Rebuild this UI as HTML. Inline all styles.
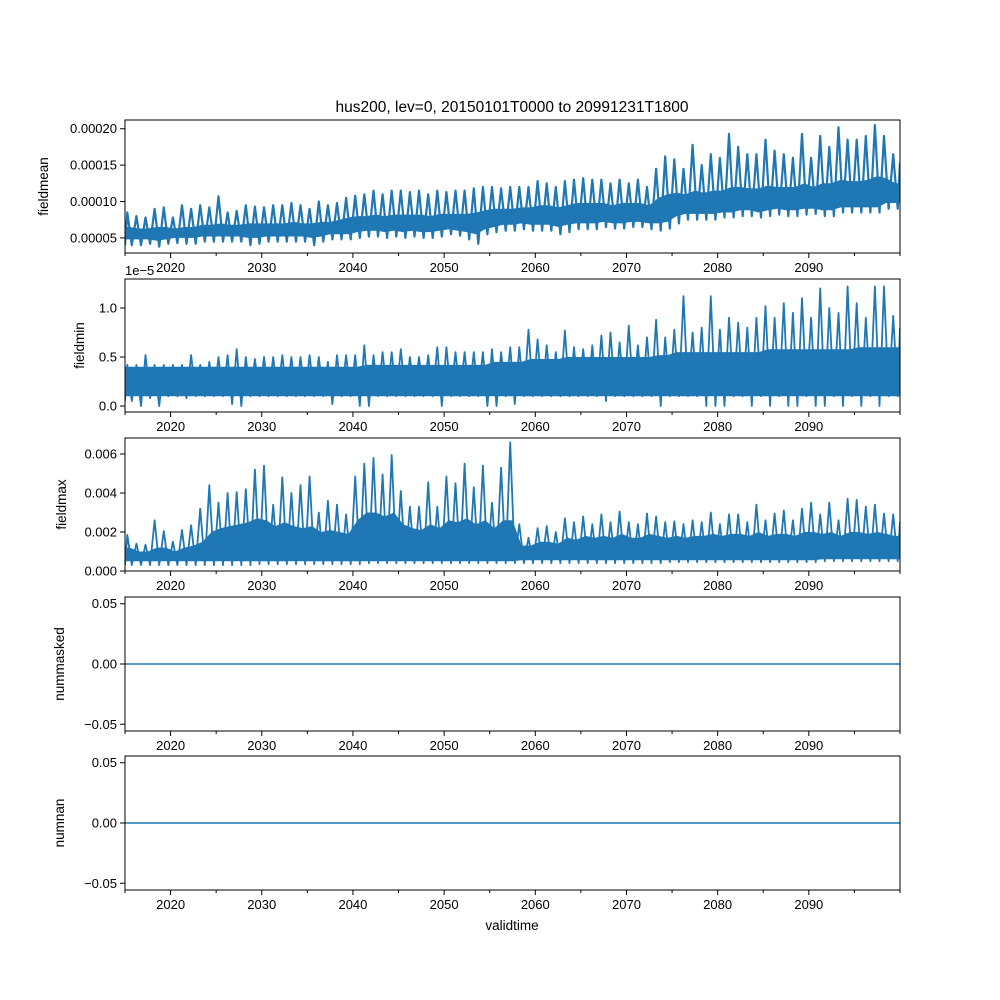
<!DOCTYPE html>
<html><head><meta charset="utf-8"><style>
body{margin:0;background:#fff}
svg{display:block;font-family:"Liberation Sans","DejaVu Sans",sans-serif}
</style></head><body>
<svg id="fig" width="1000" height="1000" viewBox="0 0 1000 1000">
<text x="512" y="112" font-size="15.5" text-anchor="middle">hus200, lev=0, 20150101T0000 to 20991231T1800</text>
<text x="512" y="930" font-size="13.5" text-anchor="middle">validtime</text>
</svg>
<script>
// ---- data (per year 2015..2099) ----
const years=[];for(let y=2015;y<2100;y++)years.push(y);
const xTicks=[2020,2030,2040,2050,2060,2070,2080,2090];
const xMinorTicks=[2015,2025,2035,2045,2055,2065,2075,2085,2095,2100];
// fieldmean (units 1e-5)
const meanPeak=[8.5,8.0,7.8,9.0,9.2,7.8,9.5,9.0,9.5,9.2,10.7,8.5,8.7,9.5,9.3,9.2,9.5,9.5,9.8,9.5,9.0,10.0,9.5,9.8,10.5,10.8,11.0,11.5,11.0,11.5,11.5,11.3,11.5,11.0,11.5,11.3,11.5,11.5,11.8,12.0,12.0,11.8,12.0,12.0,12.0,12.8,12.5,12.0,12.8,13.0,13.2,13.0,13.0,12.5,13.0,12.5,13.0,12.0,14.5,16.2,15.8,14.5,17.8,15.0,16.5,16.0,19.3,17.5,16.5,16.5,18.5,17.0,16.5,16.0,19.3,16.0,19.0,17.5,20.2,18.5,18.5,19.0,20.5,19.0,16.5];
const meanTrough=[4.0,4.0,4.2,3.8,4.2,4.3,4.2,4.2,4.5,4.5,4.5,4.5,4.5,4.0,4.2,4.5,4.5,4.5,4.5,4.5,4.0,4.5,4.8,4.8,4.8,5.0,5.2,5.2,5.0,5.2,5.0,5.2,5.0,5.0,5.2,5.5,5.3,4.8,4.2,5.5,5.8,6.0,6.0,6.2,6.0,6.0,6.0,5.5,5.8,6.2,6.2,6.2,6.5,6.3,6.3,6.5,6.5,6.2,6.0,6.3,7.0,7.5,7.5,7.5,7.5,7.8,7.8,8.0,8.0,7.8,8.0,8.2,8.0,8.0,8.2,8.3,8.0,8.0,8.5,8.5,8.5,8.5,8.5,9.0,9.0];
const meanBandHi=[6.5,6.3,6.3,6.5,6.5,6.3,6.5,6.5,6.8,6.8,7.0,6.8,6.8,7.0,7.0,7.0,7.0,7.0,7.2,7.0,7.0,7.2,7.2,7.5,7.8,8.0,8.0,8.2,8.0,8.2,8.2,8.2,8.2,8.0,8.3,8.3,8.3,8.3,8.5,8.8,9.0,9.0,9.0,9.2,9.2,9.5,9.5,9.2,9.5,9.8,9.8,9.8,9.8,9.5,9.8,9.8,9.8,9.5,10.5,11.0,11.2,11.0,11.5,11.2,11.5,11.5,12.0,12.0,11.8,11.8,12.2,12.0,12.0,12.0,12.5,12.0,12.5,12.5,13.0,12.8,12.8,13.0,13.5,13.2,12.5];
const meanBandLo=[4.8,4.8,4.8,4.6,4.8,5.0,5.0,5.0,5.2,5.2,5.2,5.2,5.2,5.0,5.0,5.2,5.2,5.2,5.2,5.2,5.0,5.2,5.5,5.5,5.5,5.8,6.0,6.0,5.8,6.0,5.8,6.0,5.8,5.8,6.0,6.2,6.0,5.8,5.5,6.2,6.5,6.8,6.8,7.0,6.8,6.8,6.8,6.5,6.8,7.0,7.0,7.0,7.2,7.0,7.0,7.2,7.2,7.0,7.0,7.2,8.0,8.3,8.3,8.3,8.3,8.5,8.5,8.8,8.8,8.5,8.8,9.0,8.8,8.8,9.0,9.0,8.8,8.8,9.2,9.2,9.2,9.2,9.2,9.8,9.8];
// fieldmin (units 1e-5)
const minPeak=[0.42,0.42,0.52,0.42,0.42,0.42,0.42,0.52,0.42,0.45,0.50,0.52,0.58,0.50,0.48,0.50,0.50,0.52,0.50,0.50,0.52,0.50,0.45,0.52,0.52,0.52,0.62,0.52,0.55,0.55,0.58,0.50,0.50,0.52,0.60,0.60,0.55,0.55,0.55,0.55,0.58,0.55,0.60,0.60,0.78,0.68,0.62,0.55,0.77,0.60,0.58,0.62,0.72,0.75,0.65,0.82,0.62,0.70,0.88,0.70,0.78,1.12,0.75,0.80,1.12,0.78,0.90,0.85,0.80,0.90,1.02,0.90,1.05,0.95,1.10,0.90,1.20,1.00,0.95,1.22,1.05,0.90,1.22,1.22,0.92];
const minTrough=[0.05,0.0,0.08,0.0,0.1,0.1,0.08,0.1,0.1,0.1,0.1,0.02,0.0,0.1,0.1,0.1,0.1,0.1,0.1,0.1,0.1,0.1,0.02,0.1,0.1,0.0,0.0,0.1,0.1,0.1,0.1,0.1,0.1,0.1,0.0,0.1,0.1,0.1,0.1,0.0,0.0,0.1,0.02,0.1,0.1,0.1,0.1,0.1,0.1,0.1,0.1,0.1,0.05,0.1,0.1,0.1,0.1,0.1,0.0,0.1,0.1,0.1,0.1,0.0,0.0,0.0,0.1,0.1,0.0,0.1,0.0,0.1,0.0,0.0,0.1,0.0,0.0,0.1,0.0,0.1,0.0,0.1,0.0,0.1,0.1];
const minBandHi=[0.4,0.4,0.4,0.4,0.4,0.4,0.4,0.4,0.4,0.4,0.4,0.4,0.4,0.4,0.4,0.4,0.4,0.4,0.4,0.4,0.4,0.4,0.4,0.4,0.4,0.4,0.42,0.42,0.42,0.42,0.42,0.42,0.42,0.42,0.42,0.42,0.42,0.42,0.42,0.42,0.45,0.45,0.45,0.45,0.48,0.48,0.48,0.48,0.5,0.5,0.5,0.5,0.5,0.5,0.5,0.5,0.5,0.5,0.52,0.52,0.55,0.55,0.55,0.55,0.55,0.55,0.55,0.55,0.55,0.55,0.58,0.58,0.58,0.58,0.58,0.58,0.58,0.58,0.58,0.58,0.6,0.6,0.6,0.6,0.6];
const minBandLo=[0.1,0.1,0.1,0.1,0.1,0.1,0.1,0.1,0.1,0.1,0.1,0.1,0.1,0.1,0.1,0.1,0.1,0.1,0.1,0.1,0.1,0.1,0.1,0.1,0.1,0.1,0.1,0.1,0.1,0.1,0.1,0.1,0.1,0.1,0.1,0.1,0.1,0.1,0.1,0.1,0.1,0.1,0.1,0.1,0.1,0.1,0.1,0.1,0.1,0.1,0.1,0.1,0.1,0.1,0.1,0.1,0.1,0.1,0.1,0.1,0.1,0.1,0.1,0.1,0.1,0.1,0.1,0.1,0.1,0.1,0.1,0.1,0.1,0.1,0.1,0.1,0.1,0.1,0.1,0.1,0.1,0.1,0.1,0.1,0.1];
// fieldmax (units 1e-3)
const maxPeak=[1.85,1.4,1.35,2.6,2.05,1.5,2.1,2.35,3.2,4.4,3.5,4.0,4.05,4.2,5.2,5.4,3.4,4.8,4.0,4.4,4.85,3.0,3.6,3.4,2.9,4.85,5.5,5.8,4.95,5.95,4.1,3.3,3.3,4.55,3.3,4.85,4.5,5.5,4.3,5.4,3.5,5.3,6.6,2.4,1.7,2.2,2.3,2.0,2.7,2.5,2.8,2.4,2.9,2.5,3.05,2.5,2.4,2.95,2.8,2.5,2.55,2.4,2.6,2.5,3.0,2.4,2.9,2.9,2.5,3.4,2.6,2.95,3.1,2.6,3.2,3.5,2.9,3.5,2.6,3.7,3.65,3.3,3.4,2.95,2.9];
const maxTrough=[0.3,0.3,0.3,0.3,0.3,0.3,0.3,0.3,0.3,0.3,0.3,0.3,0.3,0.3,0.35,0.35,0.35,0.35,0.35,0.35,0.35,0.35,0.35,0.35,0.35,0.35,0.4,0.4,0.4,0.4,0.4,0.4,0.4,0.4,0.4,0.4,0.4,0.4,0.4,0.4,0.4,0.4,0.4,0.4,0.4,0.4,0.4,0.4,0.4,0.4,0.4,0.4,0.4,0.4,0.4,0.4,0.4,0.4,0.4,0.45,0.45,0.45,0.45,0.45,0.45,0.45,0.45,0.45,0.45,0.45,0.45,0.45,0.45,0.45,0.45,0.45,0.5,0.5,0.5,0.5,0.5,0.5,0.5,0.5,0.5];
const maxBandHi=[1.2,1.0,1.0,1.2,1.2,1.0,1.2,1.3,1.5,2.0,2.2,2.3,2.4,2.5,2.7,2.6,2.3,2.5,2.3,2.2,2.3,2.0,2.1,2.0,1.9,2.6,3.0,3.0,2.8,3.0,2.4,2.2,2.1,2.4,2.2,2.6,2.5,2.7,2.4,2.6,2.2,2.6,2.6,1.3,1.3,1.5,1.5,1.4,1.7,1.6,1.8,1.7,1.8,1.7,1.9,1.7,1.7,1.9,1.8,1.7,1.8,1.7,1.8,1.8,1.9,1.8,1.9,1.9,1.8,2.0,1.8,1.9,1.9,1.8,2.0,2.0,1.9,2.0,1.8,2.0,2.0,1.9,2.0,1.9,1.8];
const maxBandLo=[0.5,0.5,0.5,0.5,0.5,0.5,0.5,0.5,0.5,0.5,0.5,0.5,0.5,0.5,0.5,0.5,0.5,0.5,0.5,0.5,0.5,0.5,0.5,0.5,0.5,0.5,0.5,0.5,0.5,0.5,0.5,0.5,0.5,0.5,0.5,0.5,0.5,0.5,0.5,0.5,0.5,0.5,0.5,0.55,0.55,0.55,0.55,0.55,0.55,0.55,0.55,0.55,0.55,0.55,0.55,0.55,0.55,0.55,0.55,0.55,0.55,0.55,0.55,0.55,0.55,0.55,0.55,0.55,0.55,0.55,0.55,0.55,0.55,0.55,0.55,0.55,0.6,0.6,0.6,0.6,0.6,0.6,0.6,0.6,0.6];
const zeroSeries=years.map(()=>0);
const meanTicks=[0.00005,0.00010,0.00015,0.00020];
const meanTickLabels=["0.00005","0.00010","0.00015","0.00020"];
const minTicks=[0,0.5,1.0];const minTickLabels=["0.0","0.5","1.0"];
const maxTicks=[0,0.002,0.004,0.006];const maxTickLabels=["0.000","0.002","0.004","0.006"];
const zTicks=[-0.05,0,0.05];const zTickLabels=["−0.05","0.00","0.05"];

const NS="http://www.w3.org/2000/svg";
const svg=document.getElementById('fig');
const X0=125,X1=900,XMIN=2015,XMAX=2100;
function xs(v){return X0+(v-XMIN)/(XMAX-XMIN)*(X1-X0);}
const C="#1f77b4";
function mk(tag,attrs,parent){const e=document.createElementNS(NS,tag);for(const k in attrs)e.setAttribute(k,attrs[k]);(parent||svg).appendChild(e);return e;}

function panel(key,top,bot,ymin,ymax,ticks,labels,ylabel,ylabelX){
  const ys=v=>bot-(v-ymin)/(ymax-ymin)*(bot-top);
  const g=mk('g',{});
  
  
  const cp=mk('clipPath',{id:'cp-'+key},g);
  mk('rect',{x:X0,y:top,width:X1-X0,height:bot-top},cp);
  const plot=mk('g',{'clip-path':'url(#cp-'+key+')'},g);
  
  
  const fr=mk('rect',{x:X0,y:top,width:X1-X0,height:bot-top,fill:'none',stroke:'#000','stroke-width':1},g);
  
  
  xTicks.forEach(t=>{
    mk('line',{x1:xs(t),x2:xs(t),y1:bot,y2:bot+5,stroke:'#000'},g);
    const tx=mk('text',{x:xs(t),y:bot+19,'font-size':13,'text-anchor':'middle'},g);tx.textContent=t;
    
    
  });
  xMinorTicks.forEach(t=>mk('line',{x1:xs(t),x2:xs(t),y1:bot,y2:bot+3,stroke:'#000'},g));
  ticks.forEach((t,i)=>{
    const y=ys(t);
    mk('line',{x1:X0-5,x2:X0,y1:y,y2:y,stroke:'#000'},g);
    const tx=mk('text',{x:X0-8,y:y+4.5,'font-size':13,'text-anchor':'end'},g);tx.textContent=labels[i];
    
    
  });
  const yl=mk('text',{x:ylabelX,y:(top+bot)/2,'font-size':13.5,'text-anchor':'middle',transform:`rotate(-90 ${ylabelX} ${(top+bot)/2})`},g);
  yl.textContent=ylabel;
  
  
  return {ys,plot};
}
function zigzag(p,peak,trough,scale,sw){
  let d='M'+xs(XMIN).toFixed(1)+','+p.ys(trough[0]*scale).toFixed(1);
  years.forEach((y,i)=>{
    d+='L'+xs(y+0.25).toFixed(1)+','+p.ys(peak[i]*scale).toFixed(1);
    d+='L'+xs(y+0.75).toFixed(1)+','+p.ys(trough[i]*scale).toFixed(1);
  });
  d+='L'+xs(XMAX).toFixed(1)+','+p.ys(peak[peak.length-1]*scale*0.85+trough[trough.length-1]*scale*0.15).toFixed(1);
  const e=mk('path',{d,fill:'none',stroke:C,'stroke-width':sw,'stroke-linejoin':'round'},p.plot);
  
  
}
function flat(p,vals,sw){
  let d='M'+xs(XMIN)+','+p.ys(vals[0]);
  years.forEach((y,i)=>{d+='L'+xs(y+0.5).toFixed(1)+','+p.ys(vals[i]).toFixed(1);});
  d+='L'+xs(XMAX)+','+p.ys(vals[vals.length-1]);
  const e=mk('path',{d,fill:'none',stroke:C,'stroke-width':sw},p.plot);
  
  
}
function band(p,hi,lo,scale){
  let d='';
  years.forEach((y,i)=>{d+=(i?'L':'M')+xs(y+0.5).toFixed(1)+','+p.ys(hi[i]*scale).toFixed(1);});
  d+='L'+xs(XMAX)+','+p.ys(hi[hi.length-1]*scale).toFixed(1);
  d+='L'+xs(XMAX)+','+p.ys(lo[lo.length-1]*scale).toFixed(1);
  for(let i=years.length-1;i>=0;i--){d+='L'+xs(years[i]+0.5).toFixed(1)+','+p.ys(lo[i]*scale).toFixed(1);}
  d+='L'+xs(XMIN)+','+p.ys(lo[0]*scale).toFixed(1)+'L'+xs(XMIN)+','+p.ys(hi[0]*scale).toFixed(1);
  const e=mk('path',{d:d+'Z',fill:C,stroke:'none'},p.plot);
  
  
}
const p1=panel('fieldmean',120,253,0.0000293,0.000212,meanTicks,meanTickLabels,'fieldmean',48);
band(p1,meanBandHi,meanBandLo,1e-5);
zigzag(p1,meanPeak,meanTrough,1e-5,2.2);
const p2=panel('fieldmin',279,412,-0.061,1.296,minTicks,minTickLabels,'fieldmin',84);
band(p2,minBandHi,minBandLo,1);
zigzag(p2,minPeak,minTrough,1,1.8);
const off=mk('text',{x:125,y:275,'font-size':13});off.textContent='1e−5';


const p3=panel('fieldmax',438,571,0,0.00682,maxTicks,maxTickLabels,'fieldmax',66);
band(p3,maxBandHi,maxBandLo,1e-3);
zigzag(p3,maxPeak,maxTrough,1e-3,1.8);
const p4=panel('nummasked',597,731,-0.0556,0.0556,zTicks,zTickLabels,'nummasked',64);
flat(p4,zeroSeries,1.5);
const p5=panel('numnan',756,890,-0.0556,0.0556,zTicks,zTickLabels,'numnan',64);
flat(p5,zeroSeries,1.5);
</script>
</body></html>
